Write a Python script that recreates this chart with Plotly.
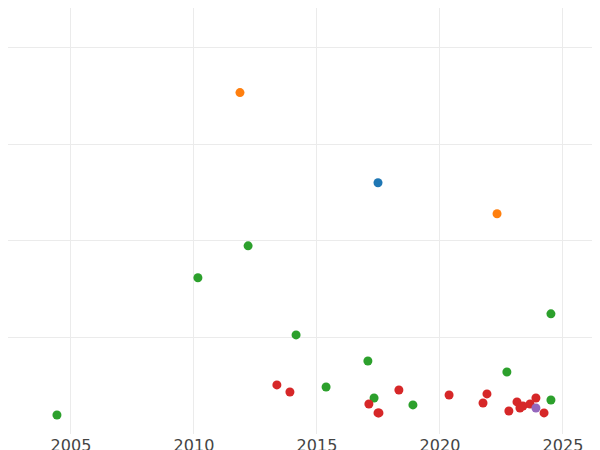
import plotly.graph_objects as go

green_x = [2004.43, 2010.16, 2012.20, 2014.15, 2015.37, 2017.07, 2017.32, 2018.90, 2022.72, 2024.51, 2024.51]
green_y = [0.197, 1.617, 1.948, 1.026, 0.487, 0.756, 0.373, 0.301, 0.642, 1.244, 0.352]
orange_x = [2011.87, 2022.32]
orange_y = [3.534, 2.280]
blue_x = [2017.48]
blue_y = [2.601]
red_x = [2013.37, 2013.90, 2017.11, 2017.48, 2017.52, 2018.33, 2020.37, 2021.75, 2021.91, 2022.80, 2023.13, 2023.25, 2023.37, 2023.66, 2023.90, 2024.23]
red_y = [0.508, 0.435, 0.311, 0.218, 0.218, 0.456, 0.404, 0.321, 0.415, 0.238, 0.332, 0.269, 0.290, 0.311, 0.373, 0.218]
purple_x = [2023.90]
purple_y = [0.269]

fig = go.Figure()
for xs, ys, c in [(green_x, green_y, "#2ca02c"), (orange_x, orange_y, "#ff7f0e"),
                  (blue_x, blue_y, "#1f77b4"), (red_x, red_y, "#d62728"),
                  (purple_x, purple_y, "#9467bd")]:
    fig.add_trace(go.Scatter(x=xs, y=ys, mode="markers",
                             marker=dict(color=c, size=9), showlegend=False))

fig.update_layout(
    width=600, height=450, margin=dict(l=0, r=0, t=0, b=24, pad=0, autoexpand=False),
    plot_bgcolor="white", paper_bgcolor="white",
    font=dict(family="DejaVu Sans", size=16, color="#444"),
)
fig.update_xaxes(range=[2002.44, 2026.83], tickvals=[2005, 2010, 2015, 2020, 2025],
                 showgrid=True, gridcolor="#ebebeb", gridwidth=1, zeroline=False,
                 ticks="", ticklabelstandoff=0, automargin=False)
fig.update_yaxes(range=[0, 4.41], tickvals=[1, 2, 3, 4], showticklabels=False,
                 showgrid=True, gridcolor="#ebebeb", gridwidth=1, zeroline=False,
                 automargin=False)
fig.write_html("out.html")
